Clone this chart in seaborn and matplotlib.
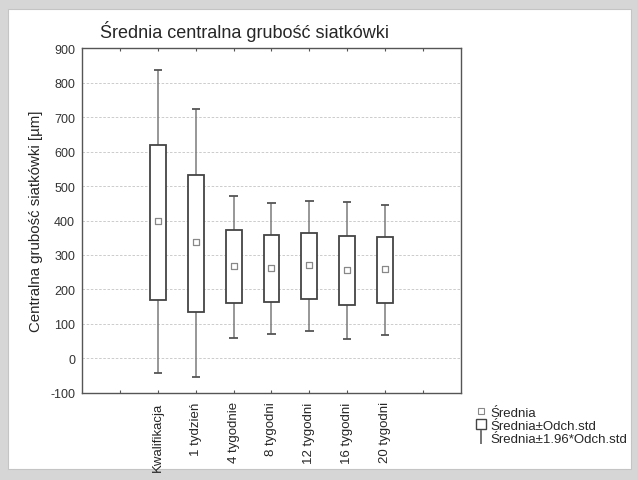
import pandas as pd
import matplotlib
matplotlib.use("Agg")
import matplotlib.pyplot as plt
import seaborn as sns
from matplotlib.lines import Line2D
from matplotlib.patches import Patch, Rectangle

sns.set_style("white")
plt.rcParams['font.family'] = ['Liberation Sans', 'DejaVu Sans']
plt.rcParams['axes.unicode_minus'] = False

# data (µm)
groups = ['Kwalifikacja', '1 tydzień', '4 tygodnie', '8 tygodni',
          '12 tygodni', '16 tygodni', '20 tygodni']
mean = [400, 338, 269, 262, 270, 257, 260]
sd_low = [170, 136, 161, 165, 172, 155, 161]
sd_high = [620, 533, 372, 357, 363, 355, 353]
ci_low = [-42, -54, 59, 71, 79, 56, 69]
ci_high = [835, 724, 470, 451, 457, 454, 445]

df = pd.DataFrame({'grupa': groups, 'srednia': mean,
                   'sd_lo': sd_low, 'sd_hi': sd_high,
                   'ci_lo': ci_low, 'ci_hi': ci_high})
df['x'] = range(2, 2 + len(df))

fig = plt.figure(figsize=(6.37, 4.81), dpi=100, facecolor='#d6d6d6')
fig.patches.append(Rectangle((0.012, 0.022), 0.978, 0.958, transform=fig.transFigure,
                             facecolor='white', edgecolor='#c4c4c4', lw=0.8, zorder=-1))
ax = fig.add_axes([0.1287, 0.181, 0.595, 0.717])

# whiskers (mean +/- 1.96 sd)
wcol = '#7a7a7a'
ax.vlines(df['x'], df['ci_lo'], df['sd_lo'], color=wcol, lw=1.1, zorder=2)
ax.vlines(df['x'], df['sd_hi'], df['ci_hi'], color=wcol, lw=1.1, zorder=2)
ax.hlines(df['ci_lo'], df['x'] - 0.11, df['x'] + 0.11, color='#555555', lw=1.3, zorder=2)
ax.hlines(df['ci_hi'], df['x'] - 0.11, df['x'] + 0.11, color='#555555', lw=1.3, zorder=2)

# boxes (mean +/- sd)
ax.bar(df['x'], df['sd_hi'] - df['sd_lo'], bottom=df['sd_lo'], width=0.42,
       facecolor='white', edgecolor='#444444', lw=1.3, zorder=3)

# means
sns.scatterplot(data=df, x='x', y='srednia', marker='s', s=22, color='white',
                edgecolor='#888888', linewidth=0.9, zorder=4, ax=ax)

ax.set_xlim(0, 10)
ax.set_ylim(-100, 900)
ax.set_yticks(range(-100, 901, 100))
ax.set_xticks(range(1, 10))
ax.set_xticklabels([''] + groups + [''], rotation=90, fontsize=9.5)
ax.tick_params(axis='x', direction='in', length=2.5, width=0.8, color='#555555',
               top=True, bottom=True, pad=6)
ax.tick_params(axis='y', direction='in', length=0, labelsize=9, pad=5,
               labelcolor='#333333')
ax.set_xlabel('')
ax.set_ylabel('Centralna grubość siatkówki [µm]', fontsize=10.8, labelpad=5)
ax.yaxis.grid(True, linestyle=(0, (3, 2)), color='#c4c4c4', lw=0.6)
ax.set_axisbelow(True)
for sp in ax.spines.values():
    sp.set_color('#555555')
    sp.set_linewidth(1.0)

fig.text(100 / 637, 1 - 32 / 481, 'Średnia centralna grubość siatkówki',
         fontsize=13, ha='left', va='center')

handles = [
    Line2D([], [], marker='s', ls='', markersize=4, markerfacecolor='white',
           markeredgecolor='#888888', markeredgewidth=0.8),
    Patch(facecolor='white', edgecolor='#444444', lw=1.0),
    Line2D([], [], marker='$\\mathrm{I}$', ls='', markersize=10, color='#777777',
           markeredgewidth=0),
]
fig.legend(handles, ['Średnia', 'Średnia±Odch.std', 'Średnia±1.96*Odch.std'],
           loc='upper left', bbox_to_anchor=(469 / 637, 1 - 401 / 481),
           frameon=False, fontsize=9.5, labelspacing=0.05, handlelength=0.8,
           handletextpad=0.3, borderpad=0)

fig.savefig('out.png', dpi=100, facecolor=fig.get_facecolor())
